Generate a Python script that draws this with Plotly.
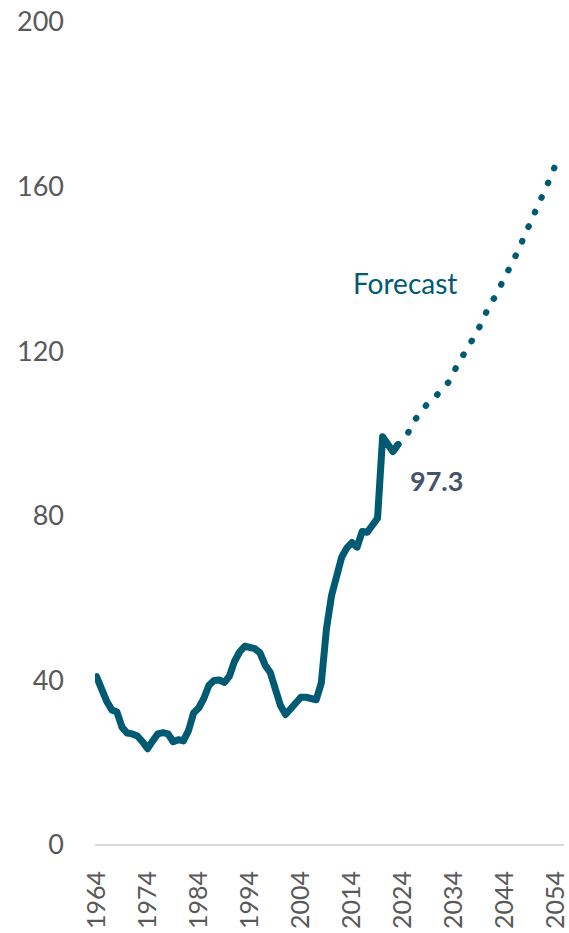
import plotly.graph_objects as go

hist_years = list(range(1964, 2024))
hist_values = [40.9, 37.8, 34.9, 32.8, 32.3, 28.6, 27.2, 27.0, 26.5, 25.1,
               23.4, 25.3, 27.0, 27.3, 27.0, 25.1, 25.6, 25.3, 27.8, 32.1,
               33.3, 35.6, 38.8, 40.0, 40.1, 39.5, 41.0, 44.6, 46.9, 48.3,
               47.9, 47.7, 46.7, 43.7, 41.9, 38.0, 33.9, 31.7, 33.0, 34.9,
               35.9, 35.9, 35.5, 35.3, 39.4, 52.5, 60.6, 65.5, 70.0, 72.2,
               73.5, 72.4, 76.2, 76.0, 77.6, 79.4, 99.2, 97.6, 95.6, 97.3]

fc_years = list(range(2023, 2055))
fc_values = [97.3, 99.0, 100.2, 102.8, 104.5, 106.4, 107.6, 108.5, 109.6, 111.2,
             112.6, 115.5, 117.6, 119.5, 121.3, 123.7, 126.0, 129.1, 131.4, 133.2,
             135.7, 138.3, 140.3, 143.2, 145.6, 149.2, 151.1, 154.4, 156.8, 159.7,
             162.8, 165.7]

x_ticks = list(range(1964, 2055, 10))
y_ticks = [0, 40, 80, 120, 160, 200]

LINE = "#005B72"
TICK = "#595959"
FONT = "Lato"

fig = go.Figure()
fig.add_trace(go.Scatter(x=hist_years, y=hist_values, mode="lines",
                         line=dict(color=LINE, width=7), hoverinfo="skip"))
fig.add_trace(go.Scatter(x=fc_years, y=fc_values, mode="lines",
                         line=dict(color=LINE, width=6.3, dash="0.5px,15.5px"),
                         hoverinfo="skip"))

fig.add_annotation(x=2024.4, y=136.5, text="Forecast", showarrow=False,
                   font=dict(family=FONT, size=28, color=LINE))
fig.add_annotation(x=2030.5, y=88.6, text="<b>97.3</b>", showarrow=False,
                   font=dict(family=FONT, size=27, color="#44546A"))

fig.update_layout(
    width=569, height=933,
    margin=dict(l=95, r=5, t=22, b=88),
    paper_bgcolor="white", plot_bgcolor="white",
    showlegend=False,
    font=dict(family=FONT, color=TICK),
)
fig.update_xaxes(range=[1963.7, 2055.5], tickvals=x_ticks,
                 ticktext=[str(v) for v in x_ticks], tickangle=-90,
                 tickfont=dict(size=25, color=TICK, family=FONT),
                 showgrid=False, zeroline=False, showline=False,
                 ticks="", ticklabelstandoff=20, automargin=False,
                 ticklabeloverflow="allow")
fig.update_yaxes(range=[0, 200], tickvals=y_ticks,
                 tickfont=dict(size=27, color=TICK, family=FONT),
                 showgrid=False, zeroline=True, zerolinecolor="#D9D9D9",
                 zerolinewidth=1.5, showline=False, ticks="",
                 ticklabelstandoff=30, automargin=False,
                 ticklabeloverflow="allow")

post = """
var gd = document.getElementsByClassName('plotly-graph-div')[0];
function roundCaps(){
  var traces = gd.querySelectorAll('.scatterlayer .trace');
  traces.forEach(function(t){
    t.querySelectorAll('path.js-line').forEach(function(p){
      p.style.strokeLinecap = 'round';
      p.style.strokeLinejoin = 'round';
    });
  });
}
roundCaps();
gd.on('plotly_afterplot', roundCaps);
"""
fig.write_html("out.html", post_script=post)
